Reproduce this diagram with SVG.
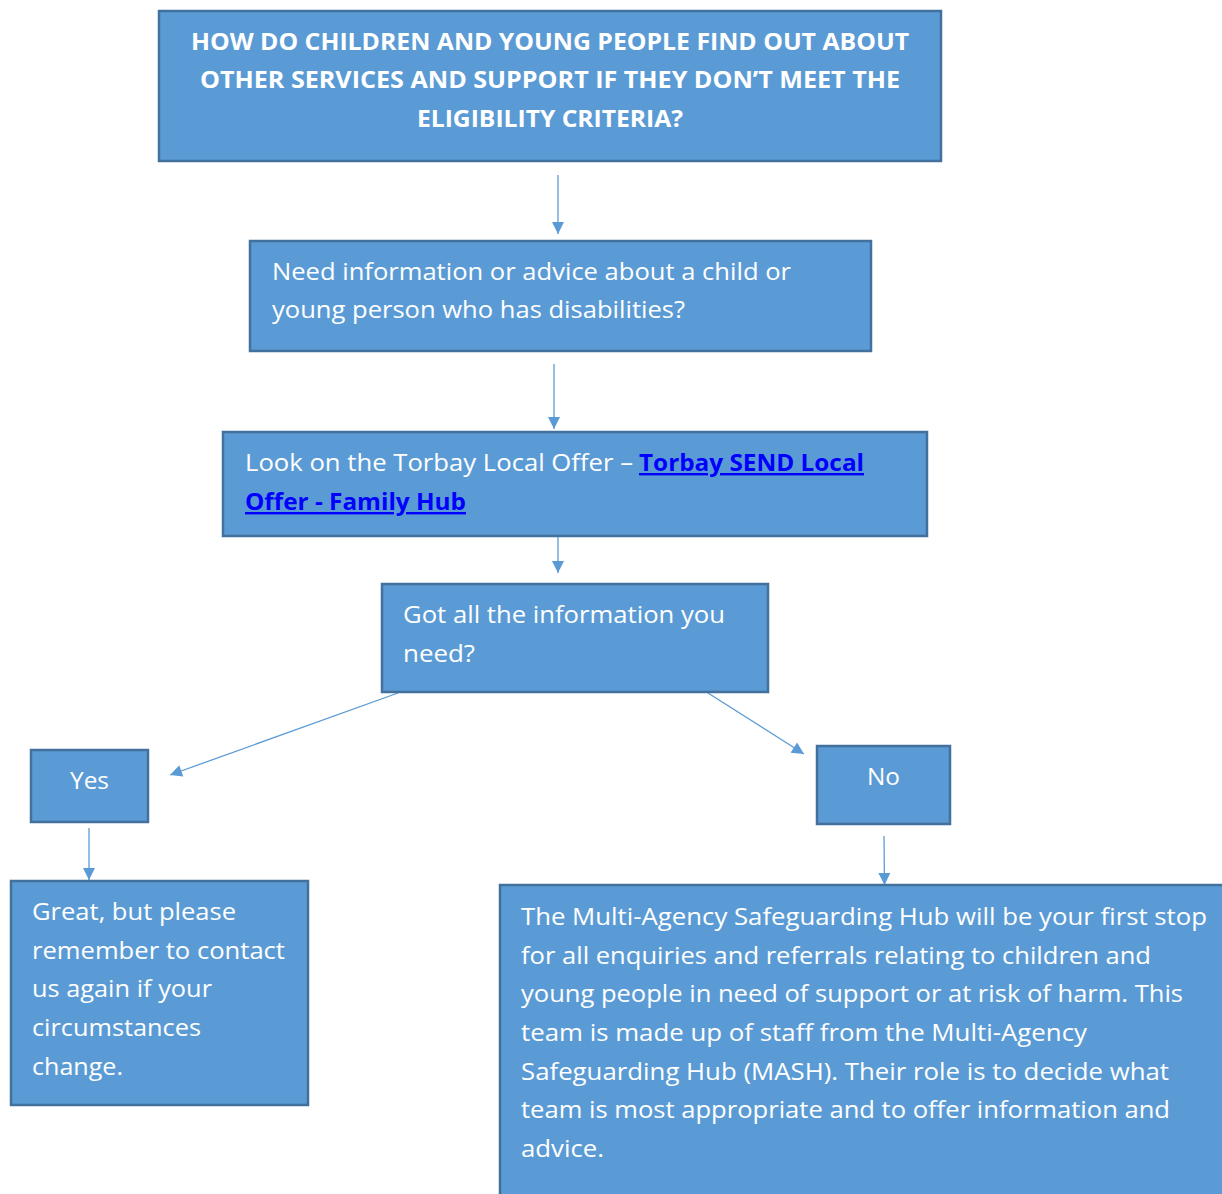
<svg xmlns="http://www.w3.org/2000/svg" width="1222" height="1194" viewBox="0 0 1222 1194">
<style>
.box{fill:#5B9BD5;stroke:#41719C;stroke-width:2.5}
.t{font-family:"Open Sans","Liberation Sans",sans-serif;font-size:24px;fill:#FFFFFF}
.b{font-weight:bold}
.link{font-family:"Open Sans","Liberation Sans",sans-serif;font-size:24px;font-weight:bold;fill:#0000FF;text-decoration:underline}
.c{stroke:#5B9BD5;stroke-width:1.3;fill:none;marker-end:url(#ah)}
</style>
<defs>
<marker id="ah" viewBox="0 0 10 10" refX="10" refY="5" markerWidth="14" markerHeight="12" markerUnits="userSpaceOnUse" orient="auto">
<path d="M0,0 L10,5 L0,10 z" fill="#5B9BD5"/>
</marker>
</defs>
<rect width="1222" height="1194" fill="#FFFFFF"/>
<g id="connectors">
<line class="c" x1="558" y1="175" x2="558" y2="234"/>
<line class="c" x1="554" y1="364" x2="554" y2="429"/>
<line class="c" x1="558" y1="537" x2="558" y2="573"/>
<line class="c" x1="398" y1="693" x2="170" y2="775"/>
<line class="c" x1="708" y1="693" x2="804" y2="754"/>
<line class="c" x1="89" y1="828" x2="89" y2="880"/>
<line class="c" x1="884" y1="836" x2="884.5" y2="885"/>
</g>
<g id="title">
<rect class="box" x="159" y="11" width="782" height="150"/>
<text class="t b" x="550" y="50" text-anchor="middle" textLength="718" lengthAdjust="spacingAndGlyphs">HOW DO CHILDREN AND YOUNG PEOPLE FIND OUT ABOUT</text>
<text class="t b" x="550" y="88" text-anchor="middle" textLength="700" lengthAdjust="spacingAndGlyphs">OTHER SERVICES AND SUPPORT IF THEY DON’T MEET THE</text>
<text class="t b" x="550" y="127" text-anchor="middle" textLength="266" lengthAdjust="spacingAndGlyphs">ELIGIBILITY CRITERIA?</text>
</g>
<g id="need-info">
<rect class="box" x="250" y="241" width="621" height="110"/>
<text class="t" x="272" y="280" textLength="519" lengthAdjust="spacingAndGlyphs">Need information or advice about a child or</text>
<text class="t" x="272" y="318" textLength="413" lengthAdjust="spacingAndGlyphs">young person who has disabilities?</text>
</g>
<g id="local-offer">
<rect class="box" x="223" y="432" width="704" height="104"/>
<text class="t" x="245" y="471" textLength="388" lengthAdjust="spacingAndGlyphs">Look on the Torbay Local Offer –</text>
<text class="link" x="639" y="471" textLength="225" lengthAdjust="spacingAndGlyphs">Torbay SEND Local</text>
<text class="link" x="245" y="510" textLength="221" lengthAdjust="spacingAndGlyphs">Offer - Family Hub</text>
</g>
<g id="got-all">
<rect class="box" x="382" y="584" width="386" height="108"/>
<text class="t" x="403" y="623" textLength="322" lengthAdjust="spacingAndGlyphs">Got all the information you</text>
<text class="t" x="403" y="662" textLength="72" lengthAdjust="spacingAndGlyphs">need?</text>
</g>
<g id="yes">
<rect class="box" x="31" y="750" width="117" height="72"/>
<text class="t" x="89.5" y="789" text-anchor="middle" textLength="39" lengthAdjust="spacingAndGlyphs">Yes</text>
</g>
<g id="no">
<rect class="box" x="817" y="746" width="133" height="78"/>
<text class="t" x="883.5" y="785" text-anchor="middle" textLength="33" lengthAdjust="spacingAndGlyphs">No</text>
</g>
<g id="great">
<rect class="box" x="11" y="881" width="297" height="224"/>
<text class="t" x="32" y="920" textLength="204" lengthAdjust="spacingAndGlyphs">Great, but please</text>
<text class="t" x="32" y="959" textLength="253" lengthAdjust="spacingAndGlyphs">remember to contact</text>
<text class="t" x="32" y="997" textLength="180" lengthAdjust="spacingAndGlyphs">us again if your</text>
<text class="t" x="32" y="1036" textLength="169" lengthAdjust="spacingAndGlyphs">circumstances</text>
<text class="t" x="32" y="1075" textLength="91" lengthAdjust="spacingAndGlyphs">change.</text>
</g>
<g id="mash">
<rect class="box" x="500" y="885" width="730" height="320"/>
<text class="t" x="521" y="925" textLength="686" lengthAdjust="spacingAndGlyphs">The Multi-Agency Safeguarding Hub will be your first stop</text>
<text class="t" x="521" y="964" textLength="630" lengthAdjust="spacingAndGlyphs">for all enquiries and referrals relating to children and</text>
<text class="t" x="521" y="1002" textLength="662" lengthAdjust="spacingAndGlyphs">young people in need of support or at risk of harm. This</text>
<text class="t" x="521" y="1041" textLength="566" lengthAdjust="spacingAndGlyphs">team is made up of staff from the Multi-Agency</text>
<text class="t" x="521" y="1080" textLength="648" lengthAdjust="spacingAndGlyphs">Safeguarding Hub (MASH). Their role is to decide what</text>
<text class="t" x="521" y="1118" textLength="649" lengthAdjust="spacingAndGlyphs">team is most appropriate and to offer information and</text>
<text class="t" x="521" y="1157" textLength="83" lengthAdjust="spacingAndGlyphs">advice.</text>
</g>
</svg>
